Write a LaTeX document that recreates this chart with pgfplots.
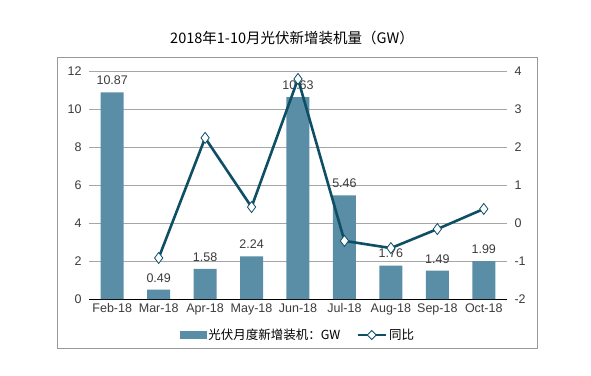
\documentclass[border=0pt]{standalone}
\usepackage{pgfplots}
\pgfplotsset{compat=1.18}
\usepackage{fontspec}
\setmainfont{Liberation Sans}
\newfontfamily\cjk{Noto Sans CJK SC}
\definecolor{barc}{RGB}{90,142,166}
\definecolor{linec}{RGB}{14,79,102}
\definecolor{txt}{RGB}{60,60,60}
\begin{document}
\begin{tikzpicture}[x=1pt,y=1pt]
\path[use as bounding box,fill=white] (0,0) rectangle (591,375);
\draw[gray!80,line width=0.8pt] (57,27) rectangle (537,318);
\node[font=\cjk\fontsize{14.5}{14.5}\selectfont] at (292,337) {2018年1-10月光伏新增装机量（GW）};
\begin{axis}[at={(89pt,76pt)}, anchor=south west, scale only axis,
  width=418pt, height=228pt,
  xmin=-0.5, xmax=8.5, ymin=0, ymax=12,
  ytick={0,2,...,12}, xtick={0,...,8},
  xticklabels={Feb-18,Mar-18,Apr-18,May-18,Jun-18,Jul-18,Aug-18,Sep-18,Oct-18},
  ymajorgrids, grid style={gray!70, line width=0.6pt},
  axis x line*=bottom, axis y line*=left,
  y axis line style={draw=none},
  x axis line style={black,line width=0.8pt,-},
  major tick length=0pt,
  /pgf/number format/assume math mode=true,
  tick label style={font=\fontsize{12.5}{12.5}\selectfont, text=txt},
  yticklabel style={xshift=-4pt},
  xticklabel style={yshift=-1pt},
  ybar, bar width=23pt,
  nodes near coords,
  nodes near coords style={font=\fontsize{12.5}{12.5}\selectfont, text=txt, yshift=4pt, /pgf/number format/fixed, /pgf/number format/precision=2, /pgf/number format/fixed zerofill},
]
\addplot[fill=barc, draw=none] coordinates {(0,10.87) (1,0.49) (2,1.58) (3,2.24) (4,10.63) (5,5.46) (6,1.76) (7,1.49) (8,1.99)};
\end{axis}
\begin{axis}[at={(89pt,76pt)}, anchor=south west, scale only axis,
  width=418pt, height=228pt,
  xmin=-0.5, xmax=8.5, ymin=-2, ymax=4,
  ytick={-2,-1,...,4},
  axis y line*=right, axis x line=none,
  y axis line style={draw=none},
  major tick length=0pt,
  /pgf/number format/assume math mode=true,
  tick label style={font=\fontsize{12.5}{12.5}\selectfont, text=txt},
  yticklabel style={xshift=4pt},
  legend columns=2,
  legend style={at={(0.5,-0.158)}, anchor=center, draw=none, fill=none,
    font=\cjk\fontsize{12.5}{12.5}\selectfont,
    /tikz/every even column/.append style={column sep=14pt}},
]
\addlegendimage{legend image code/.code={\fill[barc] (0pt,-3.5pt) rectangle (26pt,3.5pt);}}
\addlegendentry{光伏月度新增装机：GW}
\addplot[linec, line width=2.6pt, mark=diamond*, mark size=5.5pt,
  mark options={fill=white, draw=linec, line width=0.8pt},
  legend image code/.code={\draw[linec,line width=2.6pt] (0pt,0pt) -- (28pt,0pt);
    \draw[linec,fill=white,line width=0.8pt] (14pt,0pt) +(-4.5pt,0pt) -- +(0pt,4.5pt) -- +(4.5pt,0pt) -- +(0pt,-4.5pt) -- cycle;}]
  coordinates {(1,-0.92) (2,2.24) (3,0.42) (4,3.79) (5,-0.47) (6,-0.66) (7,-0.16) (8,0.37)};
\addlegendentry{同比}
\end{axis}
\end{tikzpicture}
\end{document}
